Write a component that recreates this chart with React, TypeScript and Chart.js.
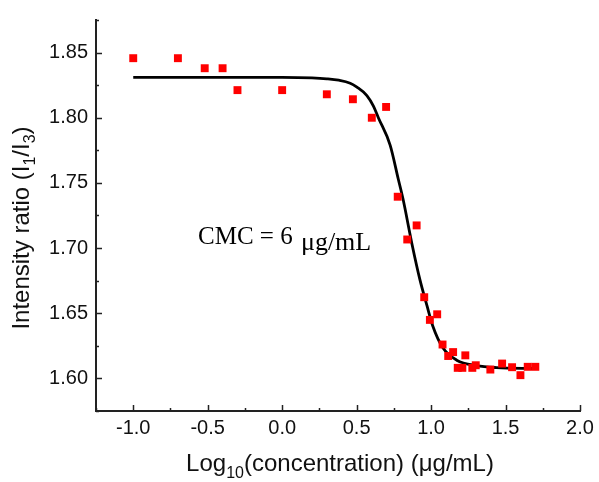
import React, { useEffect, useRef } from 'react';
import { Chart, registerables } from 'chart.js';

Chart.register(...registerables);

// Measured data: log10(concentration) vs intensity ratio I1/I3
const concX = [-1.0, -0.7, -0.52, -0.4, -0.3, 0.0, 0.3, 0.475, 0.602, 0.698, 0.776, 0.84, 0.903, 0.954, 0.992, 1.041, 1.077, 1.115, 1.148, 1.179, 1.21, 1.23, 1.277, 1.3, 1.398, 1.477, 1.544, 1.6, 1.649, 1.7];
const ratioY = [1.8457, 1.8457, 1.838, 1.838, 1.8212, 1.8212, 1.818, 1.8142, 1.8, 1.8083, 1.7394, 1.7066, 1.7174, 1.6623, 1.6449, 1.6492, 1.626, 1.6172, 1.6202, 1.6081, 1.6081, 1.6177, 1.6081, 1.6101, 1.6068, 1.6114, 1.6086, 1.6025, 1.6089, 1.6089];

// Fitted sigmoid curve
const fitX = [-1.0, -0.5, 0.0, 0.2, 0.3, 0.38, 0.457, 0.502, 0.569, 0.613, 0.646, 0.725, 0.78, 0.811, 0.872, 0.925, 0.972, 1.012, 1.079, 1.172, 1.306, 1.44, 1.7];
const fitY = [1.831, 1.831, 1.831, 1.8306, 1.8299, 1.8288, 1.8265, 1.8235, 1.817, 1.8089, 1.8, 1.779, 1.7528, 1.738, 1.703, 1.6758, 1.656, 1.64, 1.6235, 1.614, 1.6098, 1.6083, 1.6076];

const xRange = [-1.25, 2.0];
const yRange = [1.575, 1.875];
const xStep = 0.25;
const yStep = 0.025;
const xMajor = 0.5;
const yMajor = 0.05;

const annotationPos = [-0.565, 1.703];
const annotationMain = 'CMC = 6';
const annotationUnit = '\u03bcg/mL';

const SANS = '"Liberation Sans", Arial, sans-serif';
const SERIF = '"Liberation Serif", "Times New Roman", serif';

const isMajor = (v: number, m: number) => Math.abs(v / m - Math.round(v / m)) < 1e-6;

function drawRich(ctx: CanvasRenderingContext2D, parts: { t: string; sub?: boolean }[], size: number, subSize: number, subDrop: number, cx: number, baseY: number) {
  let total = 0;
  const widths = parts.map((p) => {
    ctx.font = `${p.sub ? subSize : size}px ${SANS}`;
    const w = ctx.measureText(p.t).width;
    total += w;
    return w;
  });
  let x = cx - total / 2;
  parts.forEach((p, i) => {
    ctx.font = `${p.sub ? subSize : size}px ${SANS}`;
    ctx.fillText(p.t, x, baseY + (p.sub ? subDrop : 0));
    x += widths[i];
  });
}

const decorPlugin = {
  id: 'decor',
  afterDraw(chart: any) {
    const { ctx, chartArea, scales } = chart;
    const xs = scales.x;
    const ys = scales.y;
    ctx.save();
    // inward ticks
    ctx.strokeStyle = '#222';
    ctx.lineWidth = 1.5;
    xs.ticks.forEach((t: any) => {
      const px = Math.round(xs.getPixelForValue(t.value)) + 0.5;
      const len = isMajor(t.value, xMajor) ? 6 : 3;
      ctx.beginPath();
      ctx.moveTo(px, chartArea.bottom);
      ctx.lineTo(px, chartArea.bottom - len);
      ctx.stroke();
    });
    ys.ticks.forEach((t: any) => {
      const py = Math.round(ys.getPixelForValue(t.value)) + 0.5;
      const len = isMajor(t.value, yMajor) ? 6 : 3;
      ctx.beginPath();
      ctx.moveTo(chartArea.left, py);
      ctx.lineTo(chartArea.left + len, py);
      ctx.stroke();
    });

    ctx.fillStyle = '#111';
    ctx.textAlign = 'left';
    ctx.textBaseline = 'alphabetic';
    // x title
    drawRich(
      ctx,
      [{ t: 'Log' }, { t: '10', sub: true }, { t: '(concentration) (\u03bcg/mL)' }],
      24, 16, 7,
      (chartArea.left + chartArea.right) / 2 + 2, 471
    );
    // y title
    ctx.save();
    ctx.translate(29, 228);
    ctx.rotate(-Math.PI / 2);
    drawRich(
      ctx,
      [{ t: 'Intensity ratio (I' }, { t: '1', sub: true }, { t: '/I' }, { t: '3', sub: true }, { t: ')' }],
      24, 16, 6,
      0, 0
    );
    ctx.restore();

    // annotation
    const ax = xs.getPixelForValue(annotationPos[0]);
    const ay = ys.getPixelForValue(annotationPos[1]);
    ctx.fillStyle = '#000';
    ctx.font = `25px ${SERIF}`;
    ctx.fillText(annotationMain, ax, ay);
    const w = ctx.measureText(annotationMain + ' ').width;
    ctx.font = `26px ${SERIF}`;
    ctx.fillText(annotationUnit, ax + w + 2, ay + 6);
    ctx.restore();
  },
};

export default function App() {
  const ref = useRef<HTMLCanvasElement>(null);
  useEffect(() => {
    if (!ref.current) return;
    const chart = new Chart(ref.current, {
      type: 'scatter',
      data: {
        datasets: [
          {
            label: 'Fit',
            data: fitX.map((x, i) => ({ x, y: fitY[i] })),
            showLine: true,
            borderColor: '#000',
            borderWidth: 2.8,
            pointRadius: 0,
            cubicInterpolationMode: 'monotone',
            order: 2,
          },
          {
            label: 'Data',
            data: concX.map((x, i) => ({ x, y: ratioY[i] })),
            pointStyle: 'rect',
            pointRadius: 5.6,
            backgroundColor: '#ff0000',
            borderWidth: 0,
            order: 1,
          },
        ],
      } as any,
      options: {
        animation: false,
        responsive: false,
        devicePixelRatio: 1,
        layout: { padding: { left: 0, top: 16, right: 19, bottom: 0 } },
        plugins: { legend: { display: false }, tooltip: { enabled: false } },
        scales: {
          x: {
            type: 'linear',
            min: xRange[0],
            max: xRange[1],
            afterFit: (s: any) => { s.height = 71; },
            grid: { display: false, drawTicks: false },
            border: { display: true, color: '#222', width: 2 },
            ticks: {
              stepSize: xStep,
              padding: 5,
              color: '#111',
              font: { family: SANS, size: 20 },
              autoSkip: false,
              maxRotation: 0,
              callback: (v: any) => (isMajor(Number(v), xMajor) && Number(v) > xRange[0] + 1e-6 ? Number(v).toFixed(1) : ''),
            },
          },
          y: {
            type: 'linear',
            min: yRange[0],
            max: yRange[1],
            afterFit: (s: any) => { s.width = 96; },
            grid: { display: false, drawTicks: false },
            border: { display: true, color: '#222', width: 2 },
            ticks: {
              stepSize: yStep,
              padding: 8,
              color: '#111',
              font: { family: SANS, size: 20 },
              autoSkip: false,
              callback: (v: any) => (isMajor(Number(v), yMajor) ? Number(v).toFixed(2) : ''),
            },
          },
        },
      } as any,
      plugins: [decorPlugin],
    });
    return () => chart.destroy();
  }, []);
  return (
    <div style={{ position: 'absolute', left: 0, top: 0, width: 599, height: 482, background: '#fff' }}>
      <canvas ref={ref} width={599} height={482} style={{ display: 'block' }} />
    </div>
  );
}
